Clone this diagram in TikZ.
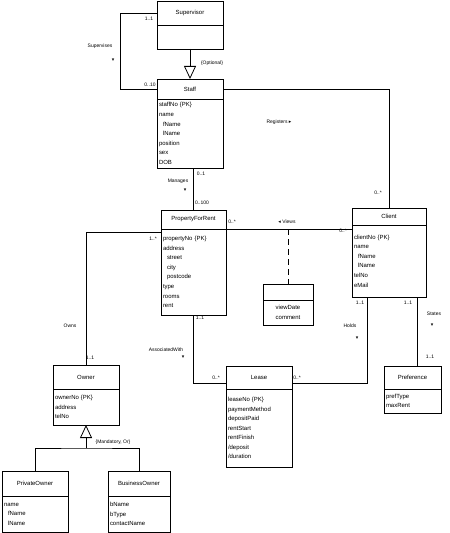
\documentclass[tikz,border=0pt]{standalone}
\usepackage{fontspec}
\setmainfont{Liberation Sans}
\newfontfamily\arrfont{DejaVu Sans}
\usetikzlibrary{arrows.meta,positioning}
\definecolor{ink}{HTML}{000000}
\newcommand{\clsfont}{\fontsize{6}{9.6}\selectfont}
\newcommand{\lblfont}{\fontsize{5}{6}\selectfont}
\newcommand{\dirdn}{{\arrfont ▾}}
\newcommand{\dirrt}{{\arrfont ▸}}
\newcommand{\dirlt}{{\arrfont ◂}}
\tikzset{
  cls/.style={draw=ink,line width=0.8bp,font=\clsfont,inner sep=0pt,outer sep=0pt},
  clsname/.style={cls,align=center},
  clsattr/.style={cls,align=left,inner xsep=2bp},
  lbl/.style={font=\lblfont,inner sep=0pt,ink},
  rel/.style={draw=ink,line width=0.8bp},
  gen/.style={rel,-{Triangle[open,length=13bp,width=12bp]}}
}
\begin{document}
\begin{tikzpicture}[x=1bp,y=-1bp]
\useasboundingbox (0,0) rectangle (450,533);
\node[clsname,minimum width=66bp,minimum height=24bp] (supname) at (190,13) {Supervisor};
\node[clsattr,text width=62bp,minimum height=24bp,below=0pt of supname] (supattr) {};
\node[clsname,minimum width=66bp,minimum height=20bp] (staffname) at (190,89) {Staff};
\node[clsattr,text width=62bp,minimum height=69bp,below=0pt of staffname] (staffattr) {staffNo \{PK\}\\name\\\hspace*{4bp}fName\\\hspace*{4bp}lName\\position\\sex\\DOB};
\node[clsname,minimum width=65bp,minimum height=19bp] (pfrname) at (193.5,219.5) {PropertyForRent};
\node[clsattr,text width=61bp,minimum height=86bp,below=0pt of pfrname] (pfrattr) {propertyNo \{PK\}\\address\\\hspace*{4bp}street\\\hspace*{4bp}city\\\hspace*{4bp}postcode\\type\\rooms\\rent};
\node[clsname,minimum width=74bp,minimum height=17bp] (clientname) at (389,216.5) {Client};
\node[clsattr,text width=70bp,minimum height=72bp,below=0pt of clientname] (clientattr) {clientNo \{PK\}\\name\\\hspace*{4bp}fName\\\hspace*{4bp}lName\\telNo\\eMail};
\node[clsname,minimum width=50bp,minimum height=16bp] (viewname) at (288,292) {};
\node[clsattr,text width=46bp,minimum height=25bp,align=center,below=0pt of viewname] (viewattr) {viewDate\\comment};
\node[clsname,minimum width=66bp,minimum height=24bp] (ownername) at (86,377) {Owner};
\node[clsattr,text width=62bp,minimum height=36bp,below=0pt of ownername] (ownerattr) {ownerNo \{PK\}\\address\\telNo};
\node[clsname,minimum width=66bp,minimum height=23bp] (leasename) at (259,377.5) {Lease};
\node[clsattr,text width=62bp,minimum height=78bp,below=0pt of leasename] (leaseattr) {leaseNo \{PK\}\\paymentMethod\\depositPaid\\rentStart\\rentFinish\\/deposit\\/duration};
\node[clsname,minimum width=57bp,minimum height=23bp] (prefname) at (412.5,377.5) {Preference};
\node[clsattr,text width=53bp,minimum height=24bp,below=0pt of prefname] (prefattr) {prefType\\maxRent};
\node[clsname,minimum width=66bp,minimum height=25bp] (privname) at (35,483.5) {PrivateOwner};
\node[clsattr,text width=62bp,minimum height=36bp,below=0pt of privname] (privattr) {name\\\hspace*{4bp}fName\\\hspace*{4bp}lName};
\node[clsname,minimum width=62bp,minimum height=25bp] (busname) at (139,483.5) {BusinessOwner};
\node[clsattr,text width=58bp,minimum height=36bp,below=0pt of busname] (busattr) {bName\\bType\\contactName};
\draw[rel] (supname.west) -- ++(-37,0) |- (staffname.west);
\draw[gen] (supattr.south) -- (staffname.north);
\draw[rel] (staffattr.south -| pfrname.north) -- (pfrname.north);
\draw[rel] (staffname.east) -| (clientname.north);
\draw[rel] (pfrattr.north east) -- (pfrattr.north east -| clientattr.west);
\draw[rel,dash pattern=on 6bp off 4bp] (viewname.north |- pfrattr.north) -- (viewname.north);
\draw[rel] ([yshift=-3bp]pfrattr.north west) -| (ownername.north);
\draw[rel] (pfrattr.south) |- ([yshift=-6bp]leasename.west);
\draw[rel] ([xshift=-22bp]clientattr.south) |- ([yshift=-6bp]leasename.east);
\draw[rel] ([xshift=28bp]clientattr.south) -- ([xshift=28bp]clientattr.south |- prefname.north);
\coordinate (ownjoin) at ([yshift=-23bp]ownerattr.south);
\draw[rel] (privname.north) |- (ownjoin) -| (busname.north);
\draw[gen] (ownjoin) -- (ownerattr.south);
\node[lbl] (msupsv) at (149,19) {1..1};
\node[lbl] (msupst) at (150,85) {0..10};
\node[lbl] (supervises) at (100,46) {Supervises};
\node[lbl] (supervisesdir) at (113,60) {\dirdn};
\node[lbl] (optional) at (212,63) {\{Optional\}};
\node[lbl] (mmanst) at (201,174) {0..1};
\node[lbl] (manages) at (178,181) {Manages};
\node[lbl] (managesdir) at (185,190) {\dirdn};
\node[lbl] (mmanpr) at (202,203) {0..100};
\node[lbl] (registers) at (279,122) {Registers \dirrt};
\node[lbl] (mregcl) at (378,193) {0..*};
\node[lbl] (mviewpr) at (232,222) {0..*};
\node[lbl] (views) at (287,222) {\dirlt\ Views};
\node[lbl] (mviewcl) at (343,231) {0..*};
\node[lbl] (mownpr) at (153,239) {1..*};
\node[lbl] (owns) at (70,326) {Owns};
\node[lbl] (mownow) at (90,358) {1..1};
\node[lbl] (mandor) at (113,442) {\{Mandatory, Or\}};
\node[lbl] (mascpr) at (200,318) {1..1};
\node[lbl] (assocwith) at (166,350) {AssociatedWith};
\node[lbl] (assocwithdir) at (183,357) {\dirdn};
\node[lbl] (mascle) at (216,378) {0..*};
\node[lbl] (mholdle) at (297,378) {0..*};
\node[lbl] (mholdcl) at (360,303) {1..1};
\node[lbl] (holds) at (350,326) {Holds};
\node[lbl] (holdsdir) at (357,338) {\dirdn};
\node[lbl] (mstatecl) at (408,303) {1..1};
\node[lbl] (states) at (434,314) {States};
\node[lbl] (statesdir) at (432,325) {\dirdn};
\node[lbl] (mstatepr) at (430,357) {1..1};
\end{tikzpicture}
\end{document}
